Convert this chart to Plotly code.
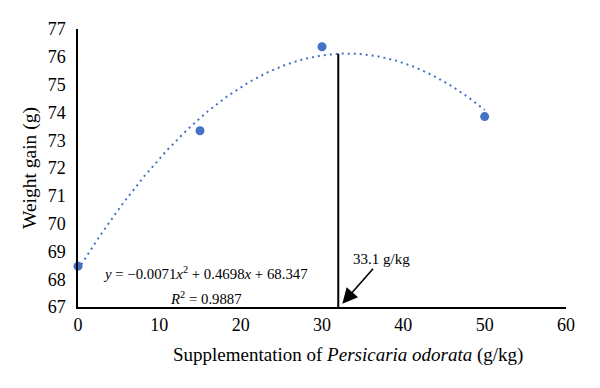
import numpy as np
import plotly.graph_objects as go

# Data
supplementation = [0, 15, 30, 50]          # g/kg
weight_gain = [68.47, 73.34, 76.36, 73.85]  # g

# Trendline equation shown on the chart: y = a x^2 + b x + c
trend_coef = [-0.0071, 0.4698, 68.347]
trend_x_range = [0, 50]

optimum_x_drawn = 32.0
optimum_label = "33.1 g/kg"

x_ticks = [0, 10, 20, 30, 40, 50, 60]
y_ticks = [67, 68, 69, 70, 71, 72, 73, 74, 75, 76, 77]

BLUE = "#4472C4"
FONT = "Liberation Serif"

tx = np.linspace(trend_x_range[0], trend_x_range[1], 200)
ty = np.polyval(trend_coef, tx)
opt_top = float(np.polyval(trend_coef, optimum_x_drawn))

# page has an 8px body margin; figure sized so it fills the 600x388 window
PAD = 8
W, H = 600 - PAD, 388 - PAD
PL, PR, PT, PB = 78, 566, 29, 307     # plot area in page pixels
L, R, T, B = PL - PAD, (PAD + W) - PR, PT - PAD, (PAD + H) - PB

fig = go.Figure()
fig.add_trace(go.Scatter(x=tx, y=ty, mode="lines",
                         line=dict(color=BLUE, width=2, dash="2px,4px"),
                         hoverinfo="skip", showlegend=False))
fig.add_trace(go.Scatter(x=[optimum_x_drawn, optimum_x_drawn], y=[67, opt_top],
                         mode="lines", line=dict(color="black", width=2),
                         showlegend=False))
fig.add_trace(go.Scatter(x=supplementation, y=weight_gain, mode="markers",
                         marker=dict(color=BLUE, size=9),
                         cliponaxis=False, showlegend=False))

fig.update_layout(
    width=W, height=H,
    margin=dict(l=L, r=R, t=T, b=B, autoexpand=False),
    plot_bgcolor="white", paper_bgcolor="white",
    font=dict(family=FONT, size=18, color="black"),
    xaxis=dict(range=[0, 60], tickvals=x_ticks, showgrid=False, zeroline=False,
               automargin=False,
               showline=True, linecolor="black", linewidth=1.5,
               ticks="outside", ticklen=1, tickcolor="rgba(0,0,0,0)"),
    yaxis=dict(range=[67, 77], tickvals=y_ticks, showgrid=False, zeroline=False,
               automargin=False,
               showline=True, linecolor="black", linewidth=1.5,
               ticks="outside", ticklen=7, tickcolor="rgba(0,0,0,0)",
               title=dict(text="Weight gain (g)", font=dict(size=19.5), standoff=6)),
    annotations=[
        dict(x=15.7, y=68.22, xref="x", yref="y", showarrow=False,
             text="<i>y</i> = −0.0071<i>x</i><sup>2</sup> + 0.4698<i>x</i> + 68.347",
             font=dict(size=14.8)),
        dict(x=15.7, y=67.33, xref="x", yref="y", showarrow=False,
             text="<i>R</i><sup>2</sup> = 0.9887", font=dict(size=14.8)),
        dict(x=32.5, y=67.12, xref="x", yref="y",
             ax=37.3, ay=68.72, axref="x", ayref="y",
             text=optimum_label, font=dict(size=15),
             showarrow=True, arrowhead=2, arrowsize=1.9, arrowwidth=1.6,
             arrowcolor="black"),
        dict(x=(348 - PL) / (PR - PL), y=-(355 - PB) / (PB - PT),
             xref="paper", yref="paper", showarrow=False,
             xanchor="center", yanchor="middle",
             text="Supplementation of <i>Persicaria odorata</i> (g/kg)",
             font=dict(size=19)),
    ],
)

fig.write_html("out.html")
